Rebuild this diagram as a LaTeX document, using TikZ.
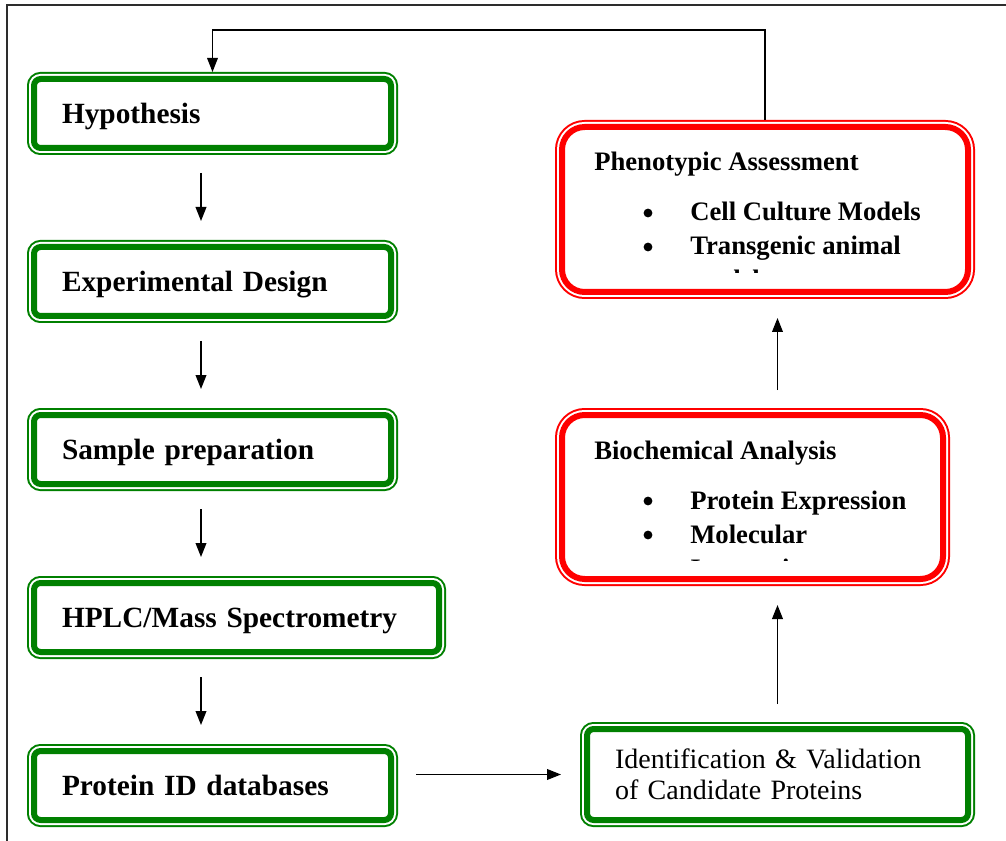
\documentclass[tikz,border=0pt]{standalone}
\usepackage{fontspec}
\setmainfont{Liberation Serif}
\usetikzlibrary{arrows.meta,calc,positioning}

\definecolor{boxgreen}{RGB}{0,128,0}
\definecolor{boxred}{RGB}{255,0,0}
\definecolor{framegray}{RGB}{45,45,45}

\tikzset{
  dblbox/.style={rectangle, fill=white, draw=#1, line width=4.5pt,
    preaction={draw=#1, line width=10.5pt},
    preaction={draw=white, line width=7.5pt},
    outer sep=5.25pt},
  greenbox/.style={dblbox=boxgreen, rounded corners=5pt, inner xsep=21pt,
    align=left, minimum height=51.75pt, text depth=0pt,
    font=\fontsize{22}{26}\selectfont\bfseries},
  redbox/.style={dblbox=boxred, rounded corners=17pt, inner sep=0pt},
  redtext/.style={anchor=base west, inner sep=0pt,
    font=\fontsize{20}{24}\selectfont\bfseries},
  dot/.style={circle, fill=black, inner sep=0pt, minimum size=6.6pt},
  flow/.style={-{Triangle[length=10.5pt,width=8pt]}, line width=1.3pt,
    shorten <=13.5pt, shorten >=14.25pt},
  back/.style={-{Triangle[length=10.5pt,width=8pt]}, line width=0.9pt}
}

\begin{document}
\begin{tikzpicture}[x=0.75pt,y=-0.75pt]
	\useasboundingbox (0,0) rectangle (1006,841);

	%frame
	\draw [framegray, line width=1.3pt] (7,841) -- (7,5) -- (1006,5);

	%left column
	\node [greenbox, text width=225.75pt] (hyp) at (212.5,113.5) {Hypothesis};
	\node [greenbox, text width=225.75pt] (exp) at (212.5,281.5) {Experimental Design};
	\node [greenbox, text width=225.75pt] (sample) at (212.5,449.5) {Sample preparation};
	\node [greenbox, text width=261.75pt] (hplc) at (236.5,617.5) {HPLC/Mass Spectrometry};
	\node [greenbox, text width=225.75pt] (protid) at (212.5,785.5) {Protein ID databases};

	%right column
	\node [greenbox, text width=243.75pt, minimum height=68.25pt, text depth=,
		font=\fontsize{21}{23.25}\selectfont] (ident) at (777.5,774.5)
		{Identification \& Validation\\of Candidate Proteins};
	\node [redbox, minimum width=285.75pt, minimum height=123pt] (biochem) at (752.5,497) {};
	\node [redbox, minimum width=304.5pt, minimum height=123.75pt] (pheno) at (765,209.5) {};

	%text of the red boxes
	\node [redtext] (phenohead) at (594,171) {Phenotypic Assessment};
	\node [dot] (phenodota) at (648,213) {};
	\node [redtext] (phenoa) at (690,221) {Cell Culture Models};
	\node [dot] (phenodotb) at (648,247) {};
	\node [redtext] (phenob) at (690,255) {Transgenic animal};
	\begin{scope}
		\clip (560,125) rectangle (970,273);
		\node [redtext] (phenoc) at (690,289) {models};
	\end{scope}

	\node [redtext] (biohead) at (594,459) {Biochemical Analysis};
	\node [dot] (biodota) at (648,501) {};
	\node [redtext] (bioa) at (690,509) {Protein Expression};
	\node [dot] (biodotb) at (648,535) {};
	\node [redtext] (biob) at (690,543) {Molecular};
	\begin{scope}
		\clip (560,413) rectangle (945,560);
		\node [redtext] (bioc) at (690,577) {Interactions};
	\end{scope}

	%arrows
	\coordinate (colx) at (201,0);
	\draw [flow] (hyp.south -| colx) -- (exp.north -| colx);
	\draw [flow] (exp.south -| colx) -- (sample.north -| colx);
	\draw [flow] (sample.south -| colx) -- (hplc.north -| colx);
	\draw [flow] (hplc.south -| colx) -- (protid.north -| colx);
	\draw [flow] (ident.west -| protid.east) -- (ident.west);
	\draw [flow] (ident.north) -- (biochem.south -| ident.north);
	\draw [flow] (biochem.north -| ident.north) -- (pheno.south -| ident.north);

	%back to the hypothesis
	\coordinate (loop) at (0,30);
	\draw [back] (pheno.north) -- (pheno.north |- loop) -| (hyp.north);

\end{tikzpicture}
\end{document}
